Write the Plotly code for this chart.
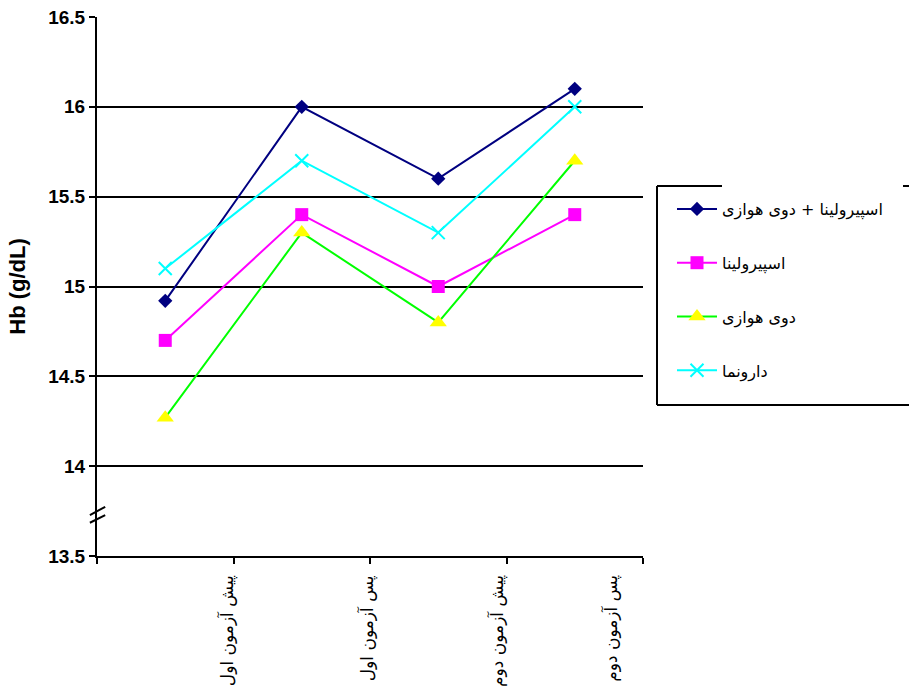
import plotly.graph_objects as go

# Test phases (x categories) and group names
test_phases = ["پیش آزمون اول", "پس آزمون اول", "پیش آزمون دوم", "پس آزمون دوم"]
groups = ["اسپیرولینا + دوی هوازی", "اسپیرولینا", "دوی هوازی", "دارونما"]

# Mean haemoglobin (g/dL) per group at each phase
hb_spirulina_aerobic = [14.92, 16.0, 15.6, 16.1]
hb_spirulina = [14.7, 15.4, 15.0, 15.4]
hb_aerobic = [14.27, 15.3, 14.8, 15.7]
hb_placebo = [15.1, 15.7, 15.3, 16.0]

y_ticks = [13.5, 14, 14.5, 15, 15.5, 16, 16.5]
y_tick_text = ["13.5", "14", "14.5", "15", "15.5", "16", "16.5"]

x_pos = list(range(len(test_phases)))
# phase labels sit just left of each category boundary
label_shift = [-0.05, -0.02, -0.07, -0.24]

FA_FONT = "DejaVu Sans"
NUM_FONT = "Liberation Sans, Arial, sans-serif"

series = [
    (hb_spirulina_aerobic, groups[0], "#000080", dict(symbol="diamond", size=11, color="#000080")),
    (hb_spirulina, groups[1], "#FF00FF", dict(symbol="square", size=13, color="#FF00FF")),
    (hb_aerobic, groups[2], "#00FF00", dict(symbol="triangle-up", size=15, color="#FFFF00")),
    (hb_placebo, groups[3], "#00FFFF", dict(symbol="x-thin", size=13, color="#00FFFF",
                                            line=dict(color="#00FFFF", width=2))),
]

fig = go.Figure()
for i, (vals, name, lc, mk) in enumerate(series):
    fig.add_trace(go.Scatter(
        x=x_pos, y=vals, name=name, mode="lines+markers",
        line=dict(color=lc, width=2), marker=mk,
        legendgroup=f"g{i}", cliponaxis=False,
    ))

# Axis-break slashes on the value axis
brk = dict(type="line", xref="paper", yref="y", line=dict(color="black", width=2))
shapes = [
    dict(brk, x0=-0.013, x1=0.015, y0=13.728, y1=13.774),
    dict(brk, x0=-0.013, x1=0.015, y0=13.685, y1=13.728),
]

# Legend frame
frame = dict(type="line", xref="paper", yref="paper", line=dict(color="black", width=2))
lx0 = (657 - 97) / 546
lx1 = 1.52
ly_top = (556 - 186) / 539
ly_bot = (556 - 405) / 539
shapes += [
    dict(frame, x0=lx0, x1=lx0, y0=ly_bot, y1=ly_top),
    dict(frame, x0=lx0, x1=lx1, y0=ly_bot, y1=ly_bot),
    dict(frame, x0=lx0, x1=(722 - 97) / 546, y0=ly_top, y1=ly_top),
    dict(frame, x0=(903 - 97) / 546, x1=lx1, y0=ly_top, y1=ly_top),
]

# Rotated phase labels under the category axis
annotations = [
    dict(text=t, x=x + 0.5 + s, xref="x", y=0, yref="paper",
         xanchor="center", yanchor="top", yshift=-17, textangle=-90, showarrow=False,
         font=dict(family=FA_FONT, size=17, color="black"))
    for x, t, s in zip(x_pos, test_phases, label_shift)
]

fig.update_layout(
    width=909, height=694,
    margin=dict(l=97, r=266, t=17, b=138, autoexpand=False),
    plot_bgcolor="white", paper_bgcolor="white",
    shapes=shapes, annotations=annotations,
    showlegend=True,
    legend=dict(
        x=(672 - 97) / 546, y=(556 - 192) / 539, xanchor="left", yanchor="top",
        bgcolor="rgba(0,0,0,0)", borderwidth=0,
        font=dict(family=FA_FONT, size=16, color="black"),
        itemwidth=40, tracegroupgap=30, traceorder="grouped",
    ),
    xaxis=dict(
        range=[-0.5, 3.5], tickmode="array", tickvals=[-0.5, 0.5, 1.5, 2.5, 3.5],
        showticklabels=False, ticks="outside", ticklen=6, tickwidth=2, tickcolor="black",
        showline=True, linecolor="black", linewidth=2, showgrid=False, zeroline=False,
    ),
    yaxis=dict(
        range=[13.5, 16.5], tickmode="array", tickvals=y_ticks, ticktext=y_tick_text,
        ticks="outside", ticklen=6, tickwidth=2, tickcolor="black",
        showline=True, linecolor="black", linewidth=2,
        showgrid=True, gridcolor="black", gridwidth=2, zeroline=False,
        tickfont=dict(family=NUM_FONT, size=19, color="black", weight="bold"),
        title=dict(text="Hb (g/dL)", standoff=17,
                   font=dict(family=NUM_FONT, size=22, color="black", weight="bold")),
    ),
)

fig.write_html("out.html")
